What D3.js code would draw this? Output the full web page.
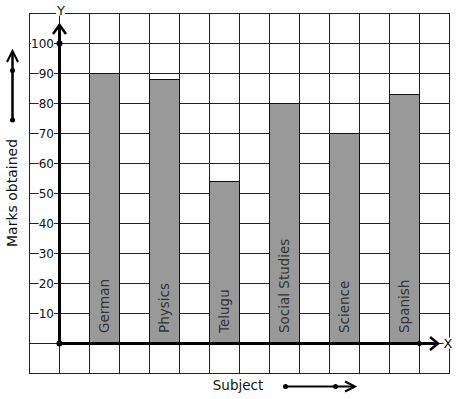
<!DOCTYPE html>
<html>
<head>
<meta charset="utf-8">
<script src="https://cdn.jsdelivr.net/npm/d3@7"></script>
<style>
  html, body { margin: 0; padding: 0; background: #fff; }
  svg { display: block; font-family: "DejaVu Sans", sans-serif; }
</style>
</head>
<body>
<svg id="chart"></svg>
<script>
const subjects = ['German', 'Physics', 'Telugu', 'Social Studies', 'Science', 'Spanish'];
const marks = [90, 88, 54, 80, 70, 83];
const yTicks = [10, 20, 30, 40, 50, 60, 70, 80, 90, 100];

const width = 457, height = 399;
const svg = d3.select('#chart').attr('width', width).attr('height', height);

// value scale: 0 at the x axis, one grid row per 10 marks
const y = d3.scaleLinear().domain([0, 100]).range([343, 43]);
const x = d3.scaleBand().domain(subjects).range([74, 434]).paddingInner(0.5).paddingOuter(0.25);

// grid (cells of 30px)
const gx = d3.scaleLinear().domain([-1, 13]).range([29, 449]);
const grid = svg.append('g').attr('stroke', '#222').attr('stroke-width', 1).attr('shape-rendering', 'crispEdges');
d3.range(-10, 111, 10).forEach(v => {
  grid.append('line').attr('x1', gx(-1)).attr('x2', gx(13) + 1).attr('y1', y(v) + 0.5).attr('y2', y(v) + 0.5);
});
d3.range(-1, 14).forEach(c => {
  grid.append('line').attr('x1', gx(c) + 0.5).attr('x2', gx(c) + 0.5).attr('y1', y(110)).attr('y2', y(-10) + 1);
});

// bars
svg.append('g').selectAll('rect')
  .data(subjects)
  .enter().append('rect')
  .attr('x', d => x(d) + 0.5)
  .attr('y', (d, i) => y(marks[i]) + 0.5)
  .attr('width', x.bandwidth())
  .attr('height', (d, i) => y(0) - y(marks[i]))
  .style('fill', '#999')
  .style('stroke', '#111')
  .style('stroke-width', 1);

// bar labels
svg.append('g').selectAll('text')
  .data(subjects)
  .enter().append('text')
  .attr('transform', d => `translate(${x(d) + x.bandwidth() / 2 + 5},${y(0) - 10}) rotate(-90)`)
  .style('font-size', '13.5px')
  .style('fill', '#333')
  .text(d => d);

// labels with a white knock-out behind them
function label(g, tx, ty, txt, size, anchor) {
  const t = g.append('text')
    .attr('x', tx).attr('y', ty).attr('dy', '0.35em')
    .style('text-anchor', anchor)
    .style('font-size', size)
    .style('fill', '#111')
    .text(txt);
  const b = t.node().getBBox();
  g.insert('rect', 'text')
    .attr('x', b.x).attr('y', b.y + 2).attr('width', b.width).attr('height', b.height - 4)
    .style('fill', '#fff');
}

const tickG = svg.append('g');
yTicks.forEach(v => {
  const g = tickG.append('g');
  label(g, 54, y(v) + 0.5, v, '12px', 'end');
});

// axes
const ax = svg.append('g').style('stroke', '#000').style('fill', 'none');
ax.append('line').attr('x1', 59.5).attr('x2', 59.5).attr('y1', y(0) + 1).attr('y2', 25).style('stroke-width', 3);
ax.append('path').attr('d', `M53,34 L59.5,25 L66,34`).style('stroke-width', 2.5);
ax.append('line').attr('x1', 58).attr('x2', 438).attr('y1', y(0) + 0.5).attr('y2', y(0) + 0.5).style('stroke-width', 3);
ax.append('path').attr('d', `M430,337 L438,343.5 L430,350`).style('stroke-width', 2.5);

const dots = svg.append('g').style('fill', '#000');
dots.append('circle').attr('cx', 59.5).attr('cy', y(100) + 0.5).attr('r', 3);
dots.append('circle').attr('cx', 59.5).attr('cy', y(0) + 0.5).attr('r', 3);
dots.append('circle').attr('cx', 419.5).attr('cy', y(0) + 0.5).attr('r', 2.5);

label(svg.append('g'), 61, 10, 'Y', '13px', 'middle');
label(svg.append('g'), 448, 343, 'X', '13px', 'middle');

// y axis title with arrow
svg.append('text')
  .attr('transform', `translate(17,193) rotate(-90)`)
  .style('text-anchor', 'middle')
  .style('font-size', '14px')
  .style('fill', '#111')
  .text('Marks obtained');
const la = svg.append('g').style('stroke', '#000').style('fill', 'none').style('stroke-width', 2.5);
la.append('line').attr('x1', 12.5).attr('x2', 12.5).attr('y1', 120).attr('y2', 52);
la.append('path').attr('d', 'M7,62 L12.5,51 L18,62').style('stroke-width', 2);
svg.append('circle').attr('cx', 12.5).attr('cy', 70.5).attr('r', 2.5);
svg.append('circle').attr('cx', 12.5).attr('cy', 120).attr('r', 2.5);

// x axis title with arrow
svg.append('text')
  .attr('x', 238).attr('y', 389.5)
  .style('text-anchor', 'middle')
  .style('font-size', '13.5px')
  .style('fill', '#111')
  .text('Subject');
const ba = svg.append('g').style('stroke', '#000').style('fill', 'none').style('stroke-width', 2);
ba.append('line').attr('x1', 285).attr('x2', 354).attr('y1', 386.5).attr('y2', 386.5);
ba.append('path').attr('d', 'M345,381.5 L355,386.5 L345,391.5');
svg.append('circle').attr('cx', 285.5).attr('cy', 386.5).attr('r', 2.5);
svg.append('circle').attr('cx', 335.5).attr('cy', 386.5).attr('r', 2.5);
</script>
</body>
</html>
